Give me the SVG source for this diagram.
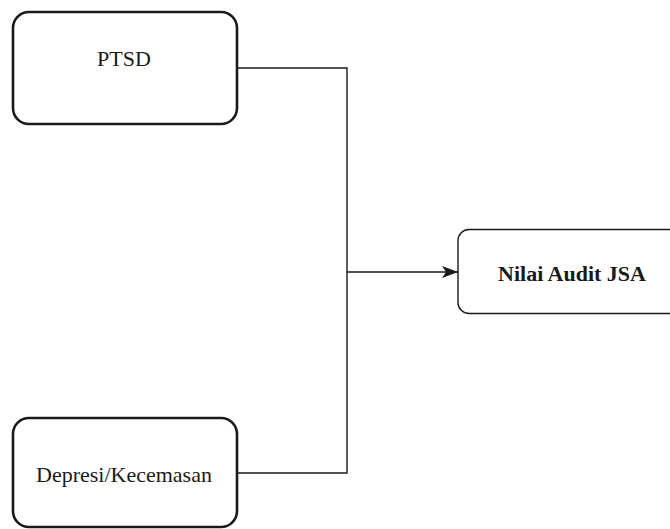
<svg xmlns="http://www.w3.org/2000/svg" width="670" height="529" viewBox="0 0 670 529">
<style>
.box{fill:#fff;stroke:#1a1a1a;stroke-width:2.6}
.box2{fill:#fff;stroke:#1a1a1a;stroke-width:1.4}
.lbl{font-family:"Liberation Serif","Times New Roman",serif;font-size:22px;fill:#1a1a1a;text-anchor:middle}
.bold{font-weight:bold}
.wire{fill:none;stroke:#1a1a1a;stroke-width:1.4}
</style>
<defs>
<marker id="arr" markerWidth="16" markerHeight="12" viewBox="0 0 16 12" refX="16" refY="6" orient="auto" markerUnits="userSpaceOnUse">
<path d="M0,0 L16,6 L0,12 L4,6 Z" fill="#1a1a1a"/>
</marker>
</defs>
<g id="connectors">
<path class="wire" d="M237,68 H347 V473 H237"/>
<path class="wire" d="M347,272 H458" marker-end="url(#arr)"/>
</g>
<g id="ptsd">
<rect class="box" x="13" y="12" width="224" height="112" rx="16"/>
<text class="lbl" x="124" y="66">PTSD</text>
</g>
<g id="depresi">
<rect class="box" x="13" y="418" width="224" height="109" rx="16"/>
<text class="lbl" x="124" y="482">Depresi/Kecemasan</text>
</g>
<g id="nilai">
<rect class="box2" x="458" y="229.5" width="228" height="84" rx="11"/>
<text class="lbl bold" x="572" y="281">Nilai Audit JSA</text>
</g>
</svg>
